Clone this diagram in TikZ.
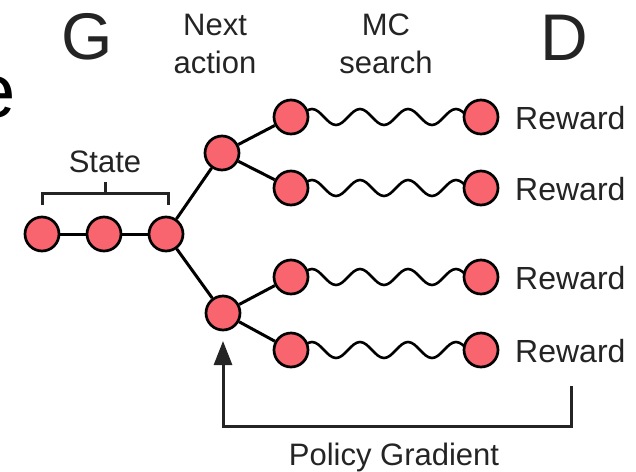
\documentclass[tikz,border=0pt]{standalone}
\usepackage{fontspec}
\setmainfont{Liberation Sans}
\usetikzlibrary{arrows.meta,backgrounds,calc}
\definecolor{nodered}{RGB}{249,101,110}
\definecolor{ink}{RGB}{36,36,36}
\begin{document}
\begin{tikzpicture}[x=1pt,y=-1pt,
  dot/.style={circle, draw=black, fill=nodered, line width=2.7pt,
              minimum size=34pt, inner sep=0pt},
  link/.style={line width=3pt, draw=black},
  wavy/.style={line width=2.6pt, draw=black},
  lbl/.style={font=\fontsize{31}{38}\selectfont, text=ink, inner sep=0pt},
  rew/.style={font=\fontsize{32}{38}\selectfont, text=ink, inner sep=0pt, anchor=base west},
  big/.style={font=\fontsize{66}{70}\selectfont, text=ink, inner sep=0pt, anchor=base},
  guide/.style={line width=3pt, draw=ink, line join=miter}]
\useasboundingbox (0,0) rectangle (636,471);
\clip (0,0) rectangle (636,471);

% partial word at the left border, and the two headings
\node[font=\fontsize{76}{80}\selectfont, text=black, inner sep=0pt, anchor=base east] (cut) at (16,117) {e};
\node[big] (gen) at (87,59) {G};
\node[big] (dis) at (564,60) {D};
\node[lbl, anchor=base] (next1) at (215,35) {Next};
\node[lbl, anchor=base] (next2) at (215,73) {action};
\node[lbl, anchor=base] (mc1) at (386,35) {MC};
\node[lbl, anchor=base] (mc2) at (386,73) {search};

% state chain
\node[dot] (s1) at (42,234) {};
\node[dot] (s2) at (104,234) {};
\node[dot] (s3) at (166,234) {};
% next actions
\node[dot] (b1) at (222,153) {};
\node[dot] (b2) at (223,313) {};
% rollout starts and ends
\node[dot] (l1) at (291,117) {};
\node[dot] (l2) at (291,188) {};
\node[dot] (l3) at (291,277) {};
\node[dot] (l4) at (291,350) {};
\node[dot] (e1) at (481,117) {};
\node[dot] (e2) at (481,188) {};
\node[dot] (e3) at (481,277) {};
\node[dot] (e4) at (481,350) {};

\draw[link] (s1) -- (s2);
\draw[link] (s2) -- (s3);
\draw[link] (s3) -- (b1);
\draw[link] (s3) -- (b2);
\draw[link] (b1) -- (l1);
\draw[link] (b1) -- (l2);
\draw[link] (b2) -- (l3);
\draw[link] (b2) -- (l4);

% Monte Carlo rollouts: four periods of a wave, drawn behind the circles
\begin{pgfonlayer}{background}
  \foreach \a in {l1, l2, l3, l4}{
    \draw[wavy] ($(\a.center)+(-3,8)$)
      \foreach \k in {1,...,4}{
        cos ++(12,-8) sin ++(12,-8) cos ++(12,8) sin ++(12,8)
      };
  }
\end{pgfonlayer}

% rewards
\foreach \e/\n in {e1/r1, e2/r2, e3/r3, e4/r4}{
  \node[rew] (\n) at ($(\e.center)+(34,12)$) {Reward};
}

% state bracket
\node[lbl, anchor=base] (state) at (105,172) {State};
\draw[guide] ($(s1.center)+(0,-29)$) -- ($(s1.center)+(0,-41)$)
  -- ($(s3.center)+(2,-41)$) -- ($(s3.center)+(2,-29)$);
\draw[guide] ($(s2.center)+(1,-41)$) -- ($(s2.center)+(1,-52)$);

% policy gradient feedback
\coordinate (pgfoot) at (571,386);
\draw[guide, -{Triangle[width=18pt,length=24pt]}]
  (pgfoot) |- ($(b2.center)+(0,113)$) -- ($(b2.center)+(0,28)$);
\node[lbl, anchor=base] (pg) at (394,465) {Policy Gradient};
\end{tikzpicture}
\end{document}
